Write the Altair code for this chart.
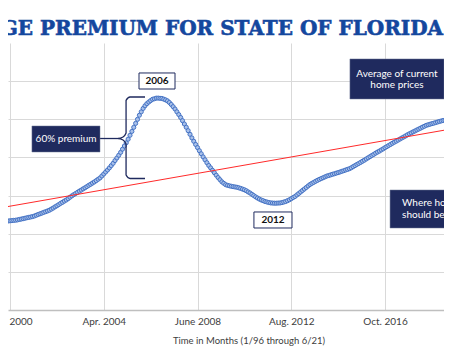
import altair as alt
import pandas as pd

# ---- data -----------------------------------------------------------------
# month index: 0 = Jan 1996 ... 305 = Jun 2021
months = list(range(306))
prices = [
    99.0, 99.3, 99.6, 99.9, 100.2, 100.5, 100.9, 101.2, 101.5, 101.9, 102.2, 102.6,
    102.9, 103.3, 103.6, 104.0, 104.4, 104.8, 105.1, 105.5, 105.9, 106.3, 106.7, 107.1,
    107.5, 107.9, 108.3, 108.7, 109.1, 109.5, 109.9, 110.3, 110.7, 111.1, 111.5, 111.9,
    112.3, 112.7, 113.1, 113.5, 113.9, 114.3, 114.7, 115.1, 115.5, 115.8, 116.0, 116.3,
    116.7, 116.9, 117.2, 117.5, 117.7, 118.1, 118.7, 119.2, 119.7, 120.3, 120.9, 121.4,
    121.9, 122.5, 123.2, 124.2, 125.2, 126.1, 127.0, 128.0, 128.9, 129.8, 130.8, 132.2,
    133.6, 135.2, 136.6, 138.2, 139.8, 141.2, 142.8, 144.2, 145.9, 147.8, 149.6, 151.2,
    152.7, 154.2, 155.8, 157.2, 158.8, 160.2, 161.8, 163.4, 164.8, 166.4, 167.9, 169.6,
    171.4, 173.1, 175.7, 178.3, 180.9, 183.5, 186.3, 189.3, 192.3, 195.9, 199.3, 202.8,
    206.6, 210.8, 215.0, 219.2, 223.9, 229.0, 234.1, 239.4, 244.6, 249.9, 255.3, 259.8,
    264.2, 267.7, 270.5, 272.6, 274.5, 276.2, 276.9, 277.7, 277.8, 277.5, 277.3, 276.4,
    275.4, 274.1, 272.0, 269.4, 266.5, 263.5, 259.8, 256.2, 252.4, 248.2, 243.8, 239.5,
    235.1, 230.3, 225.6, 221.2, 217.0, 212.9, 208.8, 204.8, 200.7, 196.9, 193.1, 189.4,
    186.3, 183.1, 179.9, 176.7, 173.6, 170.8, 168.0, 166.1, 164.3, 163.4, 162.8, 162.2,
    161.7, 161.3, 160.9, 160.2, 159.4, 158.5, 157.6, 156.4, 154.8, 153.4, 151.7, 150.0,
    148.3, 146.8, 145.4, 144.2, 143.3, 142.2, 141.6, 140.9, 140.4, 140.2, 140.0, 140.0,
    140.2, 140.3, 140.8, 141.5, 142.2, 143.3, 144.5, 145.9, 147.4, 148.8, 150.8, 152.7,
    154.7, 156.7, 158.6, 160.6, 162.6, 164.5, 166.0, 167.3, 168.7, 170.0, 171.2, 172.3,
    173.4, 174.5, 175.6, 176.3, 177.1, 177.9, 178.6, 179.4, 180.1, 180.9, 181.8, 182.6,
    183.5, 184.3, 185.2, 186.4, 187.9, 189.3, 190.8, 192.1, 193.5, 195.0, 196.4, 198.0,
    199.5, 201.0, 202.6, 204.0, 205.6, 207.0, 208.3, 209.8, 211.2, 212.8, 214.2, 215.7,
    217.1, 218.6, 220.0, 221.3, 222.7, 224.1, 225.5, 226.8, 228.2, 229.7, 231.0, 232.2,
    233.5, 234.7, 236.0, 237.2, 238.4, 239.7, 240.8, 242.0, 242.8, 243.5, 244.3, 244.9,
    245.7, 246.4, 247.1, 247.8, 248.4, 248.8, 249.2, 249.7, 250.1, 250.5, 251.0, 251.6,
    252.3, 253.0, 253.8, 254.6, 255.5, 256.5, 257.6, 258.8, 260.1, 261.6, 263.3, 265.2,
    267.3, 269.6, 272.1, 274.8, 277.6, 280.5,
]
trend_months = [0, 305]
trend_values = [115.0, 246.2]

tick_months = [49, 99, 149, 199, 249]
tick_labels = ["Feb. 2000", "Apr. 2004", "June 2008", "Aug. 2012", "Oct. 2016"]
grid_values = [50, 100, 150, 200, 250, 300]

title_text = "AVERAGE PREMIUM FOR STATE OF FLORIDA"
x_title = "Time in Months (1/96 through 6/21)"

# annotation boxes (data units: month, value)
dark_m1 = [60.7, 230.3, 251.7]
dark_m2 = [97.0, 280.5, 300.0]
dark_v1 = [207.1, 276.6, 107.5]
dark_v2 = [241.2, 329.1, 157.3]

light_m1 = [117.8, 179.1]
light_m2 = [137.0, 199.4]
light_v1 = [289.7, 107.5]
light_v2 = [310.7, 128.5]

center_texts = ["60% premium", "Average of current", "home prices"]
center_m = [78.9, 255.4, 255.4]
center_v = [224.2, 309.4, 295.0]

left_texts = ["Where housing prices", "should be, on average"]
left_m = [258.1, 258.1]
left_v = [140.1, 124.5]

year_texts = ["2006", "2012"]
year_m = [127.4, 189.3]
year_v = [300.2, 118.0]

brace_m = [121.0, 113.0, 110.9, 110.9, 109.3, 106.6, 109.3, 110.9, 110.9, 113.0, 121.0]
brace_v = [279.2, 279.2, 274.7, 232.0, 226.8, 224.8, 222.9, 217.6, 177.0, 172.4, 172.4]
connector_m = [97.0, 106.6]
connector_v = [224.8, 224.8]

# ---- chart ---------------------------------------------------------------
NAVY = "#1f2a5e"
FONT = "Lato"

x_scale = alt.Scale(domain=[47.93, 280.47], nice=False, zero=False)
y_scale = alt.Scale(domain=[0, 350], nice=False, zero=False)

label_expr = " : ".join(
    f"datum.value == {m} ? '{l}'" for m, l in zip(tick_months, tick_labels)
) + " : ''"

x_axis = alt.Axis(
    values=tick_months, labelExpr=label_expr, title=x_title,
    grid=True, gridColor="#d9d9d9", gridWidth=1, ticks=False,
    domainColor="#bfbfbf", domainWidth=1.5,
    labelFont=FONT, labelFontSize=10, labelColor="#404040", labelPadding=6,
    labelFlush=False, labelOverlap=False,
    titleFont=FONT, titleFontSize=9.5, titleFontWeight="normal", titleColor="#404040",
    titleX=240.5, titleY=30, titleBaseline="middle", titleAlign="center",
)
y_axis = alt.Axis(values=grid_values, labels=False, ticks=False, domain=False,
                  grid=True, gridColor="#d9d9d9", gridWidth=1, title="")

df = pd.DataFrame({"month": months, "value": prices})
points = alt.Chart(df).mark_circle(
    size=17, fill="#a9c1ea", stroke="#4472c4", strokeWidth=1, opacity=1, clip=True
).encode(
    x=alt.X("month:Q", scale=x_scale, axis=x_axis),
    y=alt.Y("value:Q", scale=y_scale, axis=y_axis),
)

trend = alt.Chart(pd.DataFrame({"month": trend_months, "value": trend_values})).mark_line(
    color="#ff2a2a", strokeWidth=1, clip=True
).encode(x="month:Q", y="value:Q")

dark_boxes = alt.Chart(pd.DataFrame({"month": dark_m1, "m2": dark_m2, "value": dark_v1, "v2": dark_v2})).mark_rect(
    fill=NAVY, stroke="#6f7896", strokeWidth=0.5, clip=True
).encode(x="month:Q", x2="m2", y="value:Q", y2="v2")

light_boxes = alt.Chart(pd.DataFrame({"month": light_m1, "m2": light_m2, "value": light_v1, "v2": light_v2})).mark_rect(
    fill="#ffffff", stroke=NAVY, strokeWidth=1, clip=True
).encode(x="month:Q", x2="m2", y="value:Q", y2="v2")

center_label = alt.Chart(pd.DataFrame({"month": center_m, "value": center_v, "t": center_texts})).mark_text(
    font=FONT, fontSize=10, color="#ffffff", align="center", baseline="middle"
).encode(x="month:Q", y="value:Q", text="t:N")

left_label = alt.Chart(pd.DataFrame({"month": left_m, "value": left_v, "t": left_texts})).mark_text(
    font=FONT, fontSize=10, color="#ffffff", align="left", baseline="middle", clip=True
).encode(x="month:Q", y="value:Q", text="t:N")

year_label = alt.Chart(pd.DataFrame({"month": year_m, "value": year_v, "t": year_texts})).mark_text(
    font=FONT, fontSize=10, fontWeight="bold", color="#111111", align="center", baseline="middle"
).encode(x="month:Q", y="value:Q", text="t:N")

brace_df = pd.DataFrame({"month": brace_m, "value": brace_v, "o": list(range(len(brace_m)))})
brace = alt.Chart(brace_df).mark_line(color=NAVY, strokeWidth=1.3, interpolate="monotone").encode(
    x="month:Q", y="value:Q", order="o:Q")

connector = alt.Chart(pd.DataFrame({"month": connector_m, "value": connector_v})).mark_line(
    color=NAVY, strokeWidth=1.3).encode(x="month:Q", y="value:Q")

title = alt.Chart(pd.DataFrame({"t": [title_text]})).mark_text(
    font="DejaVu Serif", fontWeight="bold", fontSize=20, color="#14479e",
    stroke="#14479e", strokeWidth=0.6,
    align="right", baseline="alphabetic"
).encode(x=alt.value(435), y=alt.value(-8), text="t:N")

chart = alt.layer(
    points, trend, brace, connector, dark_boxes, light_boxes,
    center_label, left_label, year_label, title
).properties(
    width=436, height=267,
    autosize=alt.AutoSizeParams(type="none"),
    padding={"left": 0, "right": 0, "top": 35, "bottom": 42},
    background="#ffffff",
).configure_view(strokeWidth=0)

chart.save("out.html", embed_options={"renderer": "svg", "actions": False})
